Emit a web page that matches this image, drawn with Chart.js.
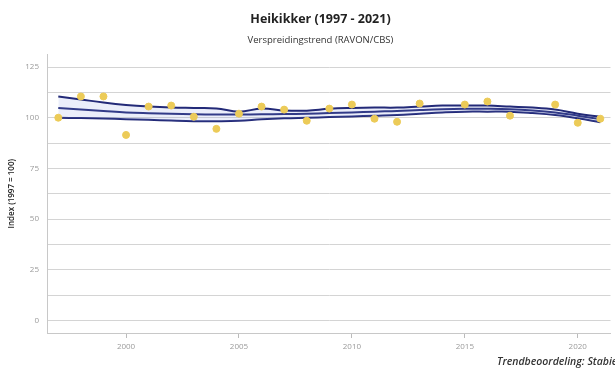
<!DOCTYPE html>
<html>
<head>
<meta charset="utf-8">
<script src="https://cdn.jsdelivr.net/npm/chart.js@4.4.1/dist/chart.umd.min.js"></script>
<style>
  html, body { margin: 0; padding: 0; background: #ffffff; }
  #wrap { width: 615px; height: 369px; position: relative; }
</style>
</head>
<body>
<div id="wrap"><canvas id="c" width="615" height="369"></canvas></div>
<script>
const titleText = 'Heikikker (1997 - 2021)';
const subtitleText = 'Verspreidingstrend (RAVON/CBS)';
const yAxisTitle = 'Index (1997 = 100)';
const footNote = 'Trendbeoordeling: Stabiel';

const years = [1997,1998,1999,2000,2001,2002,2003,2004,2005,2006,2007,2008,2009,2010,2011,2012,2013,2014,2015,2016,2017,2018,2019,2020,2021];
const indexValues = [100,110.5,110.5,91.5,105.5,106,100.5,94.5,102,105.5,104,98.5,104.5,106.5,99.5,98,107,null,106.5,108,101,null,106.5,97.5,99.5];
const trendUpper = [110.5,109,107.5,106.3,105.5,105,104.8,104.6,103,104.5,103.6,103.5,104.4,104.8,105,105,105.5,106,106,106,105.5,105,104,102,100.5];
const trendMid   = [104.8,104,103.3,102.6,102.2,101.9,101.7,101.6,101.6,101.7,101.8,102,102.3,102.6,103,103.3,103.8,104.2,104.4,104.4,104.2,103.6,102.6,101,99.3];
const trendLower = [100,99.8,99.6,99.3,99,98.6,98.3,98.3,98.5,99.2,99.7,100,100.3,100.6,101,101.4,102,102.6,103,103,103,102.3,101.3,99.7,97.7];
const xTickValues = [2000,2005,2010,2015,2020];
const yTickValues = [0,12.5,25,37.5,50,62.5,75,87.5,100,112.5,125];

const pts = arr => years.map((y, i) => ({x: y, y: arr[i]}));
const lineColor = '#232a78';

const shiftTitles = {
  id: 'shiftTitles',
  afterLayout(chart) {
    chart.boxes.forEach(b => {
      if (b.position === 'top' && b.options && typeof b.options.text === 'string') {
        b.left += 26;
      }
    });
  }
};
const footPlugin = {
  id: 'footPlugin',
  afterDraw(chart) {
    const ctx = chart.ctx;
    ctx.save();
    ctx.font = 'italic 600 10.5px "Open Sans", "DejaVu Sans", sans-serif';
    ctx.fillStyle = '#333333';
    ctx.textBaseline = 'middle';
    ctx.textAlign = 'left';
    ctx.fillText(footNote, 497, 362);
    ctx.restore();
  }
};

new Chart(document.getElementById('c'), {
  type: 'line',
  data: {
    datasets: [
      { type: 'scatter', label: 'Index', data: pts(indexValues), backgroundColor: '#eccb58', borderColor: '#eccb58',
        pointRadius: 3.5, pointHoverRadius: 3.5, order: 0 },
      { label: 'Bovengrens', data: pts(trendUpper), borderColor: lineColor, borderWidth: 2, pointRadius: 0,
        fill: '+2', backgroundColor: 'rgba(130,150,225,0.16)', tension: 0.4, order: 1 },
      { label: 'Trend', data: pts(trendMid), borderColor: lineColor, borderWidth: 2, pointRadius: 0, fill: false, tension: 0.4, order: 1 },
      { label: 'Ondergrens', data: pts(trendLower), borderColor: lineColor, borderWidth: 2, pointRadius: 0, fill: false, tension: 0.4, order: 1 }
    ]
  },
  options: {
    responsive: false,
    animation: false,
    events: [],
    layout: { padding: { left: 0, right: 0, top: 0, bottom: 0 } },
    plugins: {
      legend: { display: false },
      tooltip: { enabled: false },
      title: { display: true, text: titleText, color: '#222222',
        font: { family: '"Open Sans", "DejaVu Sans", sans-serif', size: 12.5, weight: 'bold' },
        padding: { top: 12, bottom: 5 } },
      subtitle: { display: true, text: subtitleText, color: '#333333',
        font: { family: '"Open Sans", "DejaVu Sans", sans-serif', size: 9.5 },
        padding: { top: 3, bottom: 8 } }
    },
    scales: {
      x: {
        type: 'linear', min: 1996.5, max: 2021.45,
        afterBuildTicks: s => { s.ticks = xTickValues.map(v => ({value: v})); },
        afterFit: s => { s.height = 36; },
        grid: { drawOnChartArea: false, drawTicks: true, tickLength: 5, color: '#bbbbbb' },
        border: { display: true, color: '#c8c8c8', width: 1 },
        ticks: { color: '#9a9a9a', font: { family: '"Open Sans", sans-serif', size: 8 }, padding: 4, callback: v => String(v), maxRotation: 0 }
      },
      y: {
        min: -6.25, max: 131.25,
        afterBuildTicks: s => { s.ticks = yTickValues.map(v => ({value: v})); },
        afterFit: s => { s.width = 47; },
        grid: { drawTicks: false, color: '#d4d4d4', lineWidth: 1 },
        border: { display: true, color: '#c8c8c8', width: 1 },
        ticks: { color: '#9a9a9a', font: { family: '"Open Sans", sans-serif', size: 8 }, padding: 8,
          callback: v => (v % 25 === 0 ? String(v) : '') },
        title: { display: true, text: yAxisTitle, color: '#222222',
          font: { family: '"Open Sans", sans-serif', size: 8, weight: '600' }, padding: { top: 7, bottom: 0 } }
      }
    }
  },
  plugins: [shiftTitles, footPlugin]
});
</script>
</body>
</html>
